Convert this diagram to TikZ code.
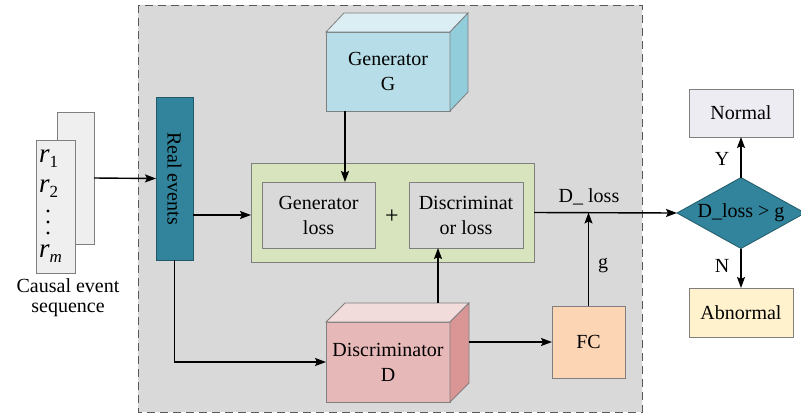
\documentclass[tikz,border=0pt]{standalone}
\usepackage{fontspec}
\setmainfont{Liberation Serif}
\usetikzlibrary{shapes.geometric,arrows.meta}

\definecolor{panelgray}{HTML}{D9D9D9}
\definecolor{panelline}{HTML}{595959}
\definecolor{boxline}{HTML}{7F7F7F}
\definecolor{lossgreen}{HTML}{D7E4BD}
\definecolor{seqgray}{HTML}{EFEFEF}
\definecolor{tealbox}{HTML}{31849B}
\definecolor{tealline}{HTML}{215968}
\definecolor{genfront}{HTML}{B7DEE8}
\definecolor{gentop}{HTML}{DAEEF3}
\definecolor{genside}{HTML}{92CDDC}
\definecolor{disfront}{HTML}{E6B9B8}
\definecolor{distop}{HTML}{F2DCDB}
\definecolor{disside}{HTML}{D99694}
\definecolor{fcfill}{HTML}{FCD5B5}
\definecolor{normfill}{HTML}{EEECF3}
\definecolor{abnfill}{HTML}{FFF2CC}

\begin{document}
\begin{tikzpicture}[x=1pt,y=-1pt,
  every node/.style={font=\fontsize{20}{25}\selectfont, inner sep=0pt, outer sep=0pt, align=center},
  plainbox/.style={draw=boxline, line width=0.8pt},
  arr/.style={line width=1.4pt, -{Stealth[length=11pt,width=8pt,inset=2pt]}},
  lbl/.style={font=\fontsize{20}{20}\selectfont},
  seqsym/.style={anchor=base west, font=\fontsize{27}{27}\selectfont}
]
\useasboundingbox (0,0) rectangle (801,416);

% grey panel holding the GAN part
\draw[fill=panelgray, draw=panelline, line width=1pt, dash pattern=on 8pt off 5pt] (138,5) rectangle (642,412);

% causal event sequence (two stacked sheets)
\node[plainbox, fill=seqgray, minimum width=37, minimum height=132] (seqb) at (75.5,178) {};
\node[plainbox, fill=seqgray, minimum width=39, minimum height=133] (seqf) at (55.5,206.5) {};
\node[seqsym] (r1) at (39,162) {\itshape r\fontsize{17}{17}\selectfont\raisebox{-5pt}{\upshape 1}};
\node[seqsym] (r2) at (39,192) {\itshape r\fontsize{17}{17}\selectfont\raisebox{-5pt}{\upshape 2}};
\foreach \yy in {211,222,233} \fill (48,\yy) circle (1.6);
\node[seqsym] (rm) at (39,257) {\itshape r\fontsize{17}{17}\selectfont\raisebox{-5pt}{\itshape m}};
\node[lbl, anchor=north] (seqlbl) at (68,279) {Causal event\\sequence};

% real events
\node[draw=tealline, line width=0.8pt, fill=tealbox, minimum width=37, minimum height=163] (re) at (174.5,178.5) {};
\node[rotate=-90] (retext) at (re.center) {Real events};

% generator cube
\node[plainbox, fill=genfront, minimum width=124, minimum height=79] (gen) at (388,71.5) {Generator\\G};
\filldraw[fill=gentop, draw=boxline, line width=0.8pt] (gen.north west) -- ++(18,-19) -- ++(124,0) -- (gen.north east) -- cycle;
\filldraw[fill=genside, draw=boxline, line width=0.8pt] (gen.north east) -- ++(18,-19) -- ++(0,79) -- (gen.south east) -- cycle;

% loss block
\node[plainbox, fill=lossgreen, minimum width=283, minimum height=99] (green) at (392.5,212.5) {};
\node[plainbox, fill=panelgray, minimum width=113, minimum height=66] (gl) at (318.5,215) {Generator\\loss};
\node[plainbox, fill=panelgray, minimum width=114, minimum height=66] (dl) at (466,215) {Discriminat\\or loss};
\node[font=\fontsize{24}{24}\selectfont] (plus) at (392,217) {+};

% discriminator cube
\node[plainbox, fill=disfront, minimum width=124, minimum height=80] (dis) at (388,362) {Discriminator\\D};
\filldraw[fill=distop, draw=boxline, line width=0.8pt] (dis.north west) -- ++(19,-19) -- ++(124,0) -- (dis.north east) -- cycle;
\filldraw[fill=disside, draw=boxline, line width=0.8pt] (dis.north east) -- ++(19,-19) -- ++(0,80) -- (dis.south east) -- cycle;

% fully connected layer
\node[plainbox, fill=fcfill, minimum width=73, minimum height=72] (fc) at (588.5,342) {FC};

% decision
\node[diamond, draw=tealline, line width=0.8pt, fill=tealbox, minimum width=128, minimum height=71] (dec) at (741,213) {};
\node (dectext) at (dec.center) {D\_loss > g};
\node[plainbox, fill=normfill, minimum width=104, minimum height=48] (normal) at (741,113) {Normal};
\node[plainbox, fill=abnfill, minimum width=104, minimum height=49] (abnormal) at (741,312.5) {Abnormal};

% connectors
\draw[arr] (seqb.east) -- (re.west);
\draw[arr] (re.east |- gl.west) -- (green.west |- gl.west);
\draw[arr] (re.south) -- (re.south |- dis.west) -- (dis.west);
\draw[arr] ([xshift=-43pt]gen.south) -- ([xshift=-43pt]gen.south |- gl.north);
\draw[arr] ([xshift=50pt,yshift=19pt]dis.north) -- ([xshift=50pt]dis.north |- dl.south);
\draw[arr] ([xshift=19pt]dis.east |- fc.west) -- (fc.west);
\draw[arr] (green.east) -- (dec.west);
\draw[arr] (fc.north) -- (fc.north |- green.east);
\node (glabel) at (603,266) {g};
\node (dlosslabel) at (589,197) {D\_ loss};
\draw[arr] (dec.north) -- (normal.south);
\draw[arr] (dec.south) -- (abnormal.north);
\node (ylabel) at (722,159) {Y};
\node (nlabel) at (722,266) {N};
\end{tikzpicture}
\end{document}
